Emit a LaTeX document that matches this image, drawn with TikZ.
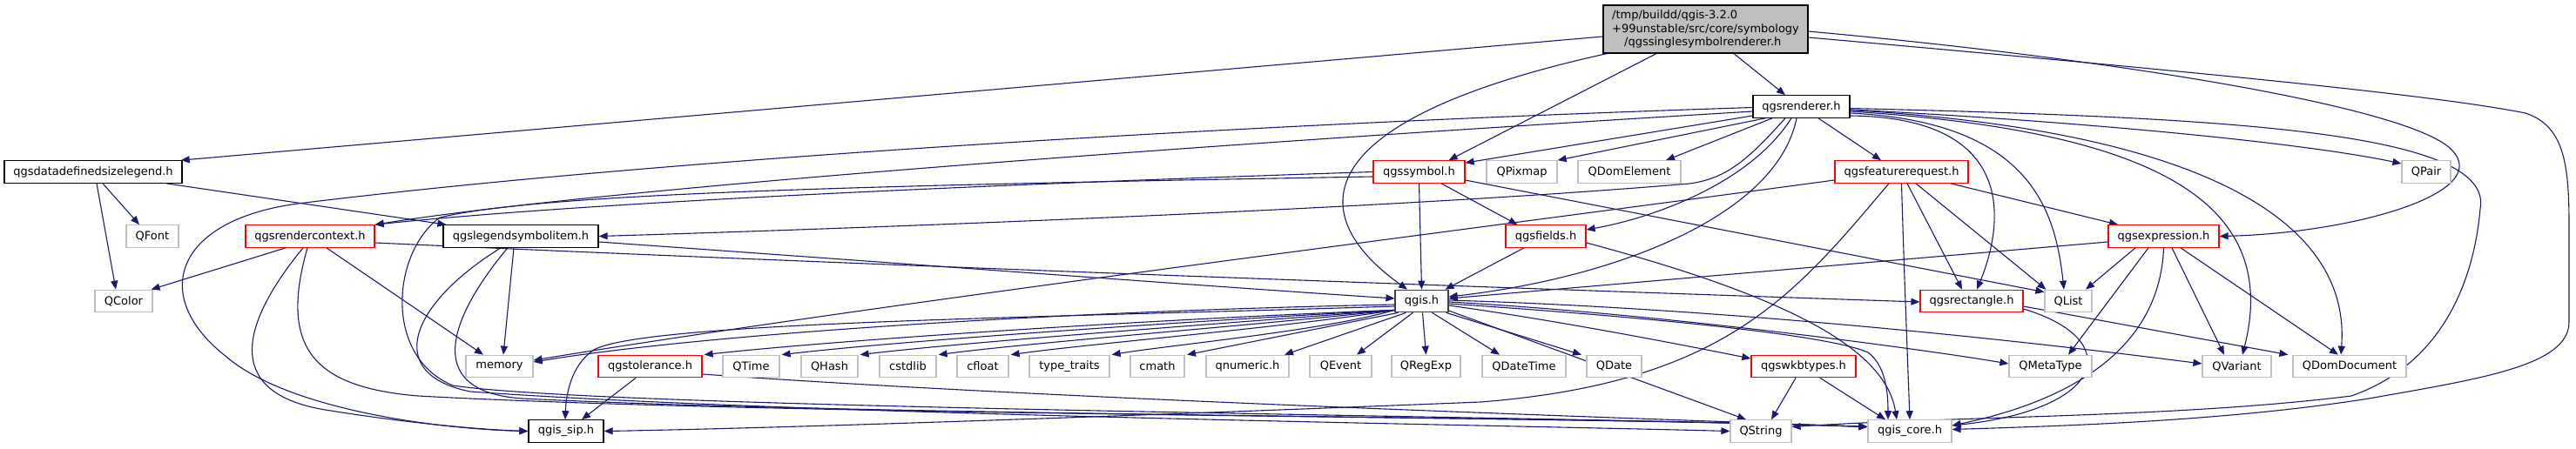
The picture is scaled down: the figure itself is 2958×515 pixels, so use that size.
\documentclass[tikz,border=0pt]{standalone}
\usepackage{fontspec}
\newfontfamily\dv{DejaVu Sans}
\usetikzlibrary{arrows.meta}
\definecolor{edgeblue}{HTML}{191970}
\definecolor{nodegray}{HTML}{BFBFBF}
\definecolor{nodered}{HTML}{FF0000}
\pgfdeclarelayer{bg}
\pgfsetlayers{bg,main}
\begin{document}
\begin{tikzpicture}[x=1pt,y=-1pt,
  nd/.style={draw, line width=1.2pt, fill=white, inner sep=0pt, minimum height=25.5pt,
    font=\dv\fontsize{13pt}{15.5pt}\selectfont, text=black},
  bk/.style={nd, draw=black},
  rd/.style={nd, draw=nodered},
  gy/.style={nd, draw=nodegray},
  dep/.style={draw=edgeblue, line width=1.1pt, -{Triangle[length=10pt,width=8pt]}}]
\useasboundingbox (0,0) rectangle (2958,515);

% root
\node[nd, draw=black, fill=nodegray, minimum width=235pt, minimum height=55pt, align=left] (R) at (1958.5,33.5)
  {/tmp/buildd/qgis-3.2.0\\+99unstable/src/core/symbology\\\hspace*{14pt}/qgssinglesymbolrenderer.h};
% row A
\node[bk, minimum width=111pt] (RN) at (2068.5,122.5) {qgsrenderer.h};
% row B
\node[bk, minimum width=204pt] (DDSL) at (107,197.5) {qgsdatadefinedsizelegend.h};
\node[rd, minimum width=105pt] (SYM) at (1629.5,197.5) {qgssymbol.h};
\node[gy, minimum width=81pt] (QPixmap) at (1747.5,197.5) {QPixmap};
\node[gy, minimum width=118pt] (QDomElement) at (1871,197.5) {QDomElement};
\node[rd, minimum width=153pt] (FR) at (2183.5,197.5) {qgsfeaturerequest.h};
\node[gy, minimum width=56pt] (QPair) at (2786,197.5) {QPair};
% row C
\node[gy, minimum width=60pt] (QFont) at (175,271.5) {QFont};
\node[rd, minimum width=148pt] (RC) at (356,271.5) {qgsrendercontext.h};
\node[bk, minimum width=178pt] (LSI) at (598,271.5) {qgslegendsymbolitem.h};
\node[rd, minimum width=92pt] (FLD) at (1775,271.5) {qgsfields.h};
\node[rd, minimum width=127pt] (EXP) at (2484.5,271.5) {qgsexpression.h};
% row D
\node[gy, minimum width=66pt] (QColor) at (142,346) {QColor};
\node[nd, draw=black!75, minimum width=61pt] (QGIS) at (1632.5,346) {qgis.h};
\node[rd, minimum width=118pt] (RECT) at (2264,346) {qgsrectangle.h};
\node[gy, minimum width=54pt] (QList) at (2375,346) {QList};
% row E
\node[gy, minimum width=77pt] (memory) at (573.5,421) {memory};
\node[rd, minimum width=119pt] (tol) at (746.5,421) {qgstolerance.h};
\node[gy, minimum width=65pt] (QTime) at (862.5,421) {QTime};
\node[gy, minimum width=65pt] (QHash) at (952.5,421) {QHash};
\node[gy, minimum width=65pt] (cstdlib) at (1042.5,421) {cstdlib};
\node[gy, minimum width=59pt] (cfloat) at (1128.5,421) {cfloat};
\node[gy, minimum width=92pt] (typetraits) at (1228,421) {type\_traits};
\node[gy, minimum width=62pt] (cmath) at (1329,421) {cmath};
\node[gy, minimum width=95pt] (qnumeric) at (1432.5,421) {qnumeric.h};
\node[gy, minimum width=71pt] (QEvent) at (1539.5,421) {QEvent};
\node[gy, minimum width=79pt] (QRegExp) at (1637.5,421) {QRegExp};
\node[gy, minimum width=96pt] (QDateTime) at (1750,421) {QDateTime};
\node[gy, minimum width=63pt] (QDate) at (1853.5,421) {QDate};
\node[rd, minimum width=120pt] (wkb) at (2071,421) {qgswkbtypes.h};
\node[gy, minimum width=95pt] (QMetaType) at (2354.5,421) {QMetaType};
\node[gy, minimum width=79pt] (QVariant) at (2568.5,421) {QVariant};
\node[gy, minimum width=130pt] (QDomDocument) at (2698,421) {QDomDocument};
% row F
\node[bk, minimum width=86pt] (sip) at (650,495.5) {qgis\_sip.h};
\node[gy, minimum width=70pt] (QString) at (2022,495.5) {QString};
\node[gy, minimum width=96pt] (core) at (2193,495.5) {qgis\_core.h};

\begin{pgfonlayer}{bg}
% root edges
\draw[dep] ([yshift=-8.5pt]R.west) -- ([xshift=-2pt]DDSL.north east);
\draw[dep] ([xshift=-56.5pt]R.south) -- ([xshift=-19pt]SYM.north east);
\draw[dep] ([xshift=-113.5pt]R.south) .. controls (1490,140) and (1500,250) .. ([xshift=-16.5pt]QGIS.north);
\draw[dep] ([xshift=32.5pt]R.south) -- ([xshift=-18.5pt]RN.north);
\draw[dep] ([yshift=-2.5pt]R.east) .. controls (2450,70) and (2770,125) .. (2815,172) .. controls (2865,222) and (2700,268) .. (EXP.east);
\draw[dep] ([yshift=-9.5pt]R.east) .. controls (2550,85) and (2800,110) .. (2900,130) .. controls (2945,145) and (2950,190) .. (2950,260) -- (2950,370) .. controls (2950,420) and (2850,435) .. (2720,458) .. controls (2550,485) and (2350,490) .. ([yshift=2pt]core.east);
% qgsrenderer.h edges
\draw[dep] ([yshift=-10.5pt]RN.west) -- ([yshift=-3pt]SYM.north east);
\draw[dep] ([xshift=-41.5pt]RN.south) -- (QPixmap.north east);
\draw[dep] ([xshift=-33.5pt]RN.south) -- ([xshift=42pt]QDomElement.north);
\draw[dep] ([xshift=19.5pt]RN.south) -- ([xshift=-23.5pt]FR.north);
\draw[dep] ([yshift=-3.5pt]RN.east) .. controls (2400,140) and (2650,165) .. ([yshift=9.5pt]QPair.west);
\draw[dep] ([yshift=-5.5pt]RN.west) .. controls (1400,165) and (700,215) .. (RC.north east);
\draw[dep] ([xshift=-18.5pt]RN.south) .. controls (2010,180) and (1985,205) .. (1940,211) .. controls (1600,240) and (1000,262) .. (LSI.east);
\draw[dep] ([xshift=-11.5pt]RN.south) .. controls (2010,210) and (1900,250) .. ([yshift=7.5pt]FLD.east);
\draw[dep] ([xshift=-5.5pt]RN.south) .. controls (2040,250) and (1850,320) .. ([yshift=5pt]QGIS.east);
\draw[dep] ([yshift=-1pt]RN.west) .. controls (1500,140) and (800,178) .. (350,233) .. controls (200,250) and (170,340) .. (260,410) .. controls (330,470) and (500,493) .. (sip.west);
\draw[dep] ([yshift=-10.5pt]RN.east) .. controls (2320,135) and (2300,260) .. ([xshift=6pt]RECT.north);
\draw[dep] ([yshift=-7.5pt]RN.east) .. controls (2330,140) and (2360,240) .. ([xshift=-5pt]QList.north);
\draw[dep] ([yshift=-5.5pt]RN.east) .. controls (2470,150) and (2620,230) .. ([xshift=6.5pt]QVariant.north);
\draw[dep] ([yshift=-4pt]RN.east) .. controls (2520,150) and (2700,250) .. ([xshift=-10pt]QDomDocument.north);
\draw[dep] ([yshift=-2pt]RN.east) .. controls (2550,135) and (2865,150) .. (2848,240) .. controls (2840,330) and (2800,420) .. (2700,455) .. controls (2500,480) and (2250,478) .. ([yshift=5pt]QString.east);
% qgsfeaturerequest.h edges
\draw[dep] ([xshift=56.5pt]FR.south) -- ([xshift=-52.5pt]EXP.north);
\draw[dep] ([xshift=6.5pt]FR.south) -- ([xshift=-11pt]RECT.north);
\draw[dep] ([xshift=16.5pt]FR.south) -- ([xshift=2pt]QList.north west);
\draw[dep] (FR.south) .. controls (2186,300) and (2190,400) .. (core.north);
\draw[dep] ([yshift=-9.5pt]FR.west) .. controls (1700,262) and (1000,350) .. ([yshift=7pt]memory.east);
\draw[dep] ([xshift=-14.5pt]FR.south) .. controls (2060,340) and (1980,440) .. (1700,462) .. controls (1300,478) and (900,492) .. (sip.east);
% qgssymbol.h edges
\draw[dep] (SYM.south) -- (QGIS.north);
\draw[dep] ([xshift=25.5pt]SYM.south) -- ([xshift=14pt]FLD.north west);
\draw[dep] ([yshift=-9.5pt]SYM.east) -- ([yshift=-3pt]QList.north west);
\draw[dep] (SYM.west) .. controls (1200,210) and (700,230) .. (RC.north east);
\draw[dep] ([yshift=-5.5pt]SYM.west) .. controls (1000,213) and (620,222) .. (505,250) .. controls (450,290) and (440,410) .. (520,443) .. controls (700,470) and (1800,478) .. ([yshift=5pt]core.west);
% qgslegendsymbolitem.h edges
\draw[dep] ([xshift=-8pt]LSI.south) -- ([xshift=4.5pt]memory.north);
\draw[dep] ([yshift=-6.5pt]LSI.east) .. controls (1000,300) and (1400,330) .. ([yshift=3pt]QGIS.west);
\draw[dep] ([xshift=-23pt]LSI.south) .. controls (470,350) and (440,430) .. (540,450) .. controls (900,476) and (1700,488) .. (QString.west);
\draw[dep] ([xshift=-15pt]LSI.south) .. controls (520,360) and (480,450) .. (600,458) .. controls (1000,478) and (1800,478) .. ([yshift=5pt]core.west);
% qgsrendercontext.h edges
\draw[dep] ([xshift=-28pt]RC.south) -- ([xshift=-2pt]QColor.north east);
\draw[dep] ([xshift=19pt]RC.south) -- ([xshift=-18.5pt]memory.north);
\draw[dep] ([xshift=-8pt]RC.south) .. controls (270,380) and (260,455) .. (380,472) .. controls (480,488) and (560,494) .. (sip.west);
\draw[dep] ([xshift=-3pt]RC.south) .. controls (320,400) and (360,445) .. (480,455) .. controls (900,478) and (1800,478) .. ([yshift=5pt]core.west);
\draw[dep] ([yshift=-7.5pt]RC.east) .. controls (1000,305) and (1700,330) .. ([yshift=-1pt]RECT.west);
% qgsdatadefinedsizelegend.h edges
\draw[dep] ([xshift=11pt]DDSL.south) -- ([xshift=-15pt]QFont.north);
\draw[dep] ([xshift=4pt]DDSL.south) -- ([xshift=-9pt]QColor.north);
\draw[dep] ([xshift=84pt]DDSL.south) -- ([xshift=4pt]LSI.north west);
% qgsfields.h edges
\draw[dep] ([xshift=-25pt]FLD.south) -- ([xshift=27pt]QGIS.north);
\draw[dep] ([yshift=-7.5pt]FLD.east) .. controls (2050,340) and (2165,400) .. ([xshift=-15pt]core.north);
% qgis.h edges
\draw[dep] ([yshift=-4pt]QGIS.west) .. controls (1200,358) and (800,385) .. ([yshift=5pt]memory.east);
\draw[dep] ([yshift=-6pt]QGIS.west) .. controls (1200,365) and (740,370) .. (682,402) .. controls (655,420) and (650,455) .. ([xshift=-1pt]sip.north);
\draw[dep] ([yshift=3pt]QGIS.south west) .. controls (1300,368) and (950,392) .. ([xshift=2pt]tol.north east);
\draw[dep] ([yshift=3pt]QGIS.south west) .. controls (1350,370) and (1030,392) .. ([xshift=2pt]QTime.north east);
\draw[dep] ([yshift=3pt]QGIS.south west) .. controls (1400,372) and (1110,393) .. ([xshift=2pt]QHash.north east);
\draw[dep] ([yshift=3pt]QGIS.south west) .. controls (1440,374) and (1180,394) .. ([xshift=2pt]cstdlib.north east);
\draw[dep] ([yshift=3pt]QGIS.south west) .. controls (1480,376) and (1250,395) .. ([xshift=2pt]cfloat.north east);
\draw[dep] ([yshift=3pt]QGIS.south west) .. controls (1520,380) and (1340,397) .. ([xshift=2pt]typetraits.north east);
\draw[dep] ([xshift=-27pt]QGIS.south) -- ([xshift=34pt]cmath.north);
\draw[dep] ([xshift=-18pt]QGIS.south) -- ([xshift=42.5pt]qnumeric.north);
\draw[dep] ([xshift=-10pt]QGIS.south) -- ([xshift=18.5pt]QEvent.north);
\draw[dep] ([xshift=1pt]QGIS.south) -- (QRegExp.north);
\draw[dep] ([xshift=12pt]QGIS.south) -- ([xshift=-28pt]QDateTime.north);
\draw[dep] ([xshift=28pt]QGIS.south) -- ([xshift=-37.5pt]QDate.north);
\draw[dep] ([yshift=-5pt]QGIS.east) .. controls (1800,370) and (1950,400) .. ([yshift=9pt]wkb.west);
\draw[dep] ([yshift=-11pt]QGIS.east) -- ([xshift=-17pt]QString.north);
\draw[dep] ([yshift=-1pt]QGIS.east) .. controls (1900,360) and (2200,400) .. ([yshift=3pt]QMetaType.west);
\draw[dep] ([yshift=1pt]QGIS.east) .. controls (2000,355) and (2350,395) .. ([yshift=3pt]QVariant.west);
\draw[dep] ([yshift=-3pt]QGIS.east) .. controls (1900,365) and (2100,385) .. (2145,405) .. controls (2165,420) and (2168,450) .. ([xshift=-25pt]core.north);
% qgsexpression.h edges
\draw[dep] ([yshift=-6.5pt]EXP.west) -- ([yshift=3pt]QGIS.east);
\draw[dep] ([xshift=-32.5pt]EXP.south) -- ([xshift=20pt]QList.north);
\draw[dep] ([xshift=-17.5pt]EXP.south) -- ([xshift=20.5pt]QMetaType.north);
\draw[dep] (EXP.south) .. controls (2480,400) and (2380,460) .. ([yshift=6.5pt]core.east);
\draw[dep] ([xshift=9.5pt]EXP.south) -- ([xshift=-14.5pt]QVariant.north);
\draw[dep] ([xshift=19.5pt]EXP.south) -- ([xshift=-13pt]QDomDocument.north);
% qgsrectangle.h edges
\draw[dep] ([yshift=-9pt]RECT.east) .. controls (2440,390) and (2420,470) .. ([yshift=6.5pt]core.east);
\draw[dep] ([yshift=-6pt]RECT.east) -- ([xshift=-5pt]QDomDocument.north west);
% qgstolerance.h edges
\draw[dep] ([xshift=-16.5pt]tol.south) -- ([xshift=18pt]sip.north);
\draw[dep] ([yshift=-9pt]tol.east) .. controls (1200,458) and (1800,478) .. ([yshift=5pt]core.west);
% qgswkbtypes.h edges
\draw[dep] ([xshift=-9pt]wkb.south) -- ([xshift=12pt]QString.north);
\draw[dep] ([xshift=19pt]wkb.south) -- ([xshift=-28pt]core.north);
\end{pgfonlayer}
\end{tikzpicture}
\end{document}
